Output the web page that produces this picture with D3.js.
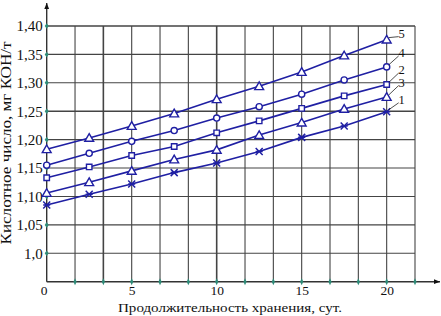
<!DOCTYPE html>
<html><head><meta charset="utf-8">
<script src="https://cdn.jsdelivr.net/npm/d3@7"></script>
<style>
html,body{margin:0;padding:0;background:#fff;}
svg{display:block;}
text{font-family:"Liberation Serif","DejaVu Serif",serif;fill:#111;}
</style></head>
<body><svg id="c" width="441" height="316"></svg>
<script>
const days = [0, 2.5, 5, 7.5, 10, 12.5, 15, 17.5, 20];
const s5 = [1.183, 1.203, 1.224, 1.246, 1.271, 1.294, 1.319, 1.348, 1.376];
const s4 = [1.155, 1.176, 1.197, 1.216, 1.238, 1.258, 1.280, 1.305, 1.328];
const s2 = [1.133, 1.152, 1.172, 1.188, 1.212, 1.233, 1.255, 1.277, 1.297];
const s3 = [1.106, 1.125, 1.145, 1.165, 1.182, 1.208, 1.230, 1.254, 1.275];
const s1 = [1.085, 1.104, 1.122, 1.142, 1.159, 1.179, 1.204, 1.224, 1.249];
const seriesLabels = ["5", "4", "2", "3", "1"];
const seriesMarkers = ["triangle", "circle", "square", "triangle", "star"];
const yTicks = [1.0, 1.05, 1.10, 1.15, 1.20, 1.25, 1.30, 1.35, 1.40];
const yTickLabels = ["1,0", "1,05", "1,10", "1,15", "1,20", "1,25", "1,30", "1,35", "1,40"];
const xTicks = [0, 5, 10, 15, 20];
const xGrid = d3.range(1, 14).map(k => k * 5 / 3);
const xTitle = "Продолжительность хранения, сут.";
const yTitle = "Кислотное число, мг КОН/т";

const series = [s5, s4, s2, s3, s1];
const svg = d3.select("#c");
const x = d3.scaleLinear().domain([0, 65 / 3]).range([46.7, 415]);
const y = d3.scaleLinear().domain([0.95, 1.40]).range([281.7, 26]);
const blue = "#1f1fa3", grid = "#444", teal = "#2e8b78";

// gridlines
svg.append("g").selectAll("line").data(yTicks).join("line")
  .attr("x1", x(0)).attr("x2", x(65/3)).attr("y1", d => y(d)).attr("y2", d => y(d))
  .attr("stroke", grid).attr("stroke-width", (d,i) => (i===8||i===5)?1.6:1.1);
svg.append("g").selectAll("line").data(xGrid).join("line")
  .attr("x1", d => x(d)).attr("x2", d => x(d)).attr("y1", y(0.95)).attr("y2", y(1.40))
  .attr("stroke", grid).attr("stroke-width", (d,i) => (i===1||i===5)?1.6:1.1);

// axes lines with arrows
svg.append("defs").append("marker").attr("id","arr").attr("viewBox","0 0 10 10")
  .attr("refX",10).attr("refY",5).attr("markerWidth",9).attr("markerHeight",6)
  .attr("markerUnits","userSpaceOnUse").attr("orient","auto")
  .append("path").attr("d","M0,1 L10,5 L0,9 Z").attr("fill","#111");
svg.append("line").attr("x1", x(0)).attr("x2", x(0)).attr("y1", y(0.95)).attr("y2", 3)
  .attr("stroke","#333").attr("stroke-width",1.4).attr("marker-end","url(#arr)");
svg.append("line").attr("x1", x(0)).attr("x2", 440).attr("y1", y(0.95)).attr("y2", y(0.95))
  .attr("stroke","#333").attr("stroke-width",1.4).attr("marker-end","url(#arr)");

// axis labels via d3 axes
const yAxis = d3.axisLeft(y).tickValues(yTicks).tickFormat((d,i) => yTickLabels[i]).tickSize(0).tickPadding(4);
const gy = svg.append("g").attr("transform", `translate(${x(0)},0)`).call(yAxis);
gy.select(".domain").remove();
gy.selectAll("text").style("font-family","'Liberation Serif',serif").style("font-size","15px").attr("fill","#111");
const xAxis = d3.axisBottom(x).tickValues(xTicks).tickFormat(d3.format("d")).tickSize(0).tickPadding(4);
const gx = svg.append("g").attr("transform", `translate(0,${y(0.95)})`).call(xAxis);
gx.select(".domain").remove();
gx.selectAll("text").style("font-family","'Liberation Serif',serif").style("font-size","13.5px").attr("fill","#111")
  .attr("dx", d => d===0 ? -3 : 0);

// teal tick marks
const dia = d3.symbol().type(d3.symbolDiamond).size(14);
svg.append("g").selectAll("path").data(yTicks).join("path")
  .attr("transform", d => `translate(${x(0)},${y(d)}) scale(1,0.8)`).attr("d", dia).attr("fill", teal);
svg.append("g").selectAll("path").data(xGrid).join("path")
  .attr("transform", d => `translate(${x(d)},${y(0.95)}) scale(0.8,1)`).attr("d", dia).attr("fill", teal);

// series lines
const line = d3.line().x((d,i) => x(days[i])).y(d => y(d));
series.forEach((s, k) => {
  svg.append("path").datum(s).attr("d", line).attr("fill","none")
    .attr("stroke", blue).attr("stroke-width", 1.6);
});

// markers
const mk = {
  triangle: d3.symbol().type(d3.symbolTriangle).size(34),
  circle: d3.symbol().type(d3.symbolCircle).size(30),
  square: d3.symbol().type(d3.symbolSquare).size(30)
};
series.forEach((s, k) => {
  const t = seriesMarkers[k];
  const g = svg.append("g");
  s.forEach((v, i) => {
    const cx = x(days[i]), cy = y(v);
    if (t === "star") {
      const r = 3.5;
      g.append("path").attr("d",
        `M${cx-r},${cy-r}L${cx+r},${cy+r}M${cx-r},${cy+r}L${cx+r},${cy-r}M${cx-r},${cy}L${cx+r},${cy}`)
        .attr("stroke", blue).attr("stroke-width", 1.5).attr("fill","none");
    } else {
      g.append("path").attr("transform", `translate(${cx},${cy + (t==="triangle"?0.8:0)})`)
        .attr("d", mk[t]()).attr("fill","#fff").attr("stroke", blue).attr("stroke-width", 1.4);
    }
  });
});

// series labels with leader lines (label offsets above the last point)
const lblRise = [6, 14, 14.5, 14.5, 12];
const lbl = svg.append("g");
series.forEach((s, k) => {
  const cx = x(days[days.length-1]), cy = y(s[s.length-1]);
  const lx = cx + 15, ly = cy - lblRise[k];
  lbl.append("line").attr("x1", cx + 2).attr("y1", cy - 2).attr("x2", lx - 3).attr("y2", ly + 3)
    .attr("stroke","#222").attr("stroke-width",0.8);
  lbl.append("text").attr("x", lx).attr("y", ly).attr("text-anchor","middle")
    .attr("dominant-baseline","central").text(seriesLabels[k])
    .style("font-size","12.5px");
});

// titles
svg.append("text").attr("x", 230).attr("y", 312).attr("text-anchor","middle")
  .attr("textLength", 224).attr("lengthAdjust","spacingAndGlyphs")
  .style("font-size","13.5px").text(xTitle);
svg.append("text").attr("transform","translate(11,143) rotate(-90)").attr("text-anchor","middle")
  .attr("textLength", 203).attr("lengthAdjust","spacingAndGlyphs")
  .style("font-size","14px").text(yTitle);
</script></body></html>
